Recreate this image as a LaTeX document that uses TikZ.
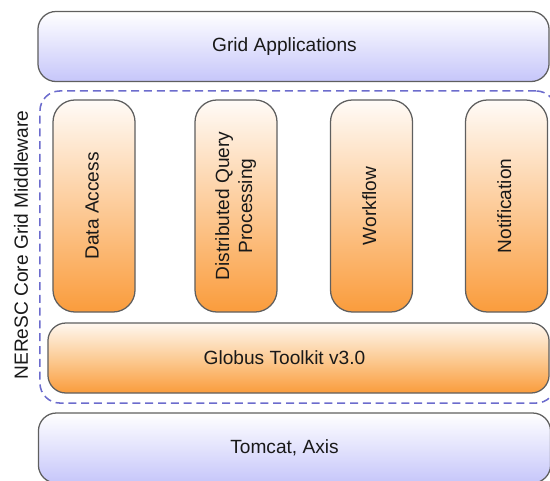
\documentclass[tikz,border=0pt]{standalone}
\usepackage{fontspec}
\setmainfont{Liberation Sans}
\usetikzlibrary{positioning}

\definecolor{layerblue}{RGB}{198,198,250}
\definecolor{layerorange}{RGB}{250,156,60}
\definecolor{midorange}{RGB}{252,204,150}
\definecolor{boxline}{RGB}{95,95,95}
\definecolor{coreline}{RGB}{108,108,205}

\tikzset{
	layertext/.style={text=black!90, font=\fontsize{13.6}{16.4}\selectfont},
	layer/.style={layertext, draw=boxline, line width=0.9pt, rounded corners=0.45cm,
		top color=white, bottom color=layerblue, minimum height=1.75cm},
	orangelayer/.style={layer, top color=orange!6, bottom color=layerorange, middle color=midorange},
	service/.style={orangelayer, rounded corners=0.55cm, minimum width=2.05cm, minimum height=5.3cm,
		top color=orange!3},
	coreframe/.style={draw=coreline, line width=1.1pt, dash pattern=on 0.2cm off 0.12cm,
		rounded corners=0.5cm, minimum width=12.9cm, minimum height=7.8cm}
}

\begin{document}
\begin{tikzpicture}[x=0.025cm, y=-0.025cm]
	\useasboundingbox (0,0) rectangle (550,480);
	
	% dashed frame of the core middleware
	\node[coreframe] (core) at (298,247) {};
	\node[layertext, rotate=90] (corelabel) at (21,245) {NEReSC Core Grid Middleware};
	
	% top and bottom layers
	\node[layer, minimum width=12.775cm] (apps) at (293.5,46.5) {Grid Applications\kern0.45cm};
	\node[layer, minimum width=12.8cm] (tomcat) at (294.5,448) {Tomcat, Axis\kern0.5cm};
	
	% globus layer inside the frame
	\node[orangelayer, minimum width=12.525cm] (globus) at (298.5,358) {Globus Toolkit v3.0\kern0.7cm};
	
	% the four services on top of globus
	\foreach \name/\xc/\txt in {data/94/Data Access, dqp/236/{Distributed Query\\Processing},
		flow/371.5/Workflow, notify/506.5/Notification} {
		\node[service] (\name) at (\xc,206)
		{\rotatebox{90}{\begin{tabular}{@{}c@{}}\txt\end{tabular}}};
	}
\end{tikzpicture}
\end{document}
